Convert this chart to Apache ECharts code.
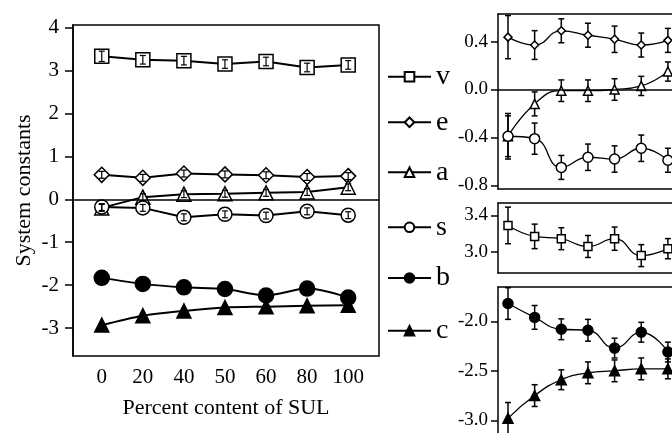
<!DOCTYPE html>
<html>
<head>
<meta charset="utf-8">
<script src="https://cdn.jsdelivr.net/npm/echarts@6/dist/echarts.min.js"></script>
<style>html,body{margin:0;padding:0;background:#fff}#c{width:672px;height:433px}</style>
</head>
<body>
<div id="c"></div>
<script>
// ---- data ----
var categories = ['0', '20', '40', '50', '60', '80', '100'];
var seriesNames = ['v', 'e', 'a', 's', 'b', 'c'];

// main panel (left)
var vMain = [3.33, 3.25, 3.23, 3.15, 3.21, 3.07, 3.13];
var eMain = [0.57, 0.50, 0.60, 0.58, 0.56, 0.52, 0.54];
var aMain = [-0.20, 0.05, 0.12, 0.13, 0.15, 0.17, 0.28];
var sMain = [-0.18, -0.20, -0.42, -0.35, -0.38, -0.28, -0.37];
var bMain = [-1.83, -1.97, -2.05, -2.09, -2.24, -2.08, -2.29];
var cMain = [-2.93, -2.71, -2.60, -2.52, -2.50, -2.48, -2.47];
var vMainErr = [0.12, 0.10, 0.10, 0.10, 0.10, 0.10, 0.10];
var eMainErr = [0.08, 0.08, 0.08, 0.08, 0.08, 0.08, 0.08];
var aMainErr = [0.08, 0.08, 0.08, 0.08, 0.08, 0.08, 0.08];
var sMainErr = [0.08, 0.08, 0.08, 0.08, 0.08, 0.08, 0.08];

// right panels (detail)
var eRight = [0.437, 0.371, 0.49, 0.453, 0.419, 0.371, 0.41];
var aRight = [-0.39, -0.12, -0.01, -0.01, 0.0, 0.03, 0.15];
var sRight = [-0.39, -0.41, -0.65, -0.565, -0.58, -0.49, -0.59];
var vRight = [3.29, 3.17, 3.145, 3.06, 3.145, 2.96, 3.036];
var bRight = [-1.82, -1.96, -2.08, -2.09, -2.27, -2.11, -2.31];
var cRight = [-2.98, -2.75, -2.59, -2.52, -2.50, -2.48, -2.48];
var eRightErr = [0.18, 0.12, 0.10, 0.10, 0.11, 0.10, 0.10];
var aRightErr = [0.19, 0.10, 0.09, 0.09, 0.09, 0.08, 0.08];
var sRightErr = [0.17, 0.13, 0.10, 0.11, 0.11, 0.11, 0.10];
var vRightErr = [0.20, 0.134, 0.12, 0.12, 0.127, 0.12, 0.11];
var bRightErr = [0.16, 0.12, 0.105, 0.11, 0.10, 0.10, 0.10];
var cRightErr = [0.16, 0.11, 0.10, 0.11, 0.11, 0.11, 0.10];

// tick labels
var mainYTicks = [4, 3, 2, 1, 0, -1, -2, -3];
var topYTicks = [0.4, 0.0, -0.4, -0.8];
var midYTicks = [3.4, 3.0];
var botYTicks = [-2.0, -2.5, -3.0];

// ---- helpers ----
var SERIF = '"Liberation Serif", "DejaVu Serif", serif';
var idx = categories.map(function (_, i) { return i; });
function pts(arr) { return arr.map(function (v, i) { return [i, v]; }); }
function errPts(arr, err) { return arr.map(function (v, i) { return [i, v - err[i], v + err[i]]; }); }

var symbols = {
  v: {symbol: 'rect', fill: '#fff'},
  e: {symbol: 'diamond', fill: '#fff'},
  a: {symbol: 'triangle', fill: '#fff'},
  s: {symbol: 'circle', fill: '#fff'},
  b: {symbol: 'circle', fill: '#000'},
  c: {symbol: 'triangle', fill: '#000'}
};

function lineSeries(name, data, grid, size, lw, smooth, extra) {
  var s = {
    name: name,
    type: 'line',
    xAxisIndex: grid, yAxisIndex: grid,
    data: pts(data),
    symbol: symbols[name.charAt(0)].symbol,
    symbolSize: size,
    smooth: smooth,
    clip: false,
    lineStyle: {color: '#000', width: lw},
    itemStyle: {color: symbols[name.charAt(0)].fill, borderColor: '#000', borderWidth: 1.5},
    z: 3,
    animation: false
  };
  if (extra) { for (var k in extra) s[k] = extra[k]; }
  return s;
}

function errSeries(data, err, grid, cap, lw, z) {
  return {
    type: 'custom',
    xAxisIndex: grid, yAxisIndex: grid,
    data: errPts(data, err),
    encode: {x: 0, y: [1, 2]},
    z: z,
    clip: false,
    silent: true,
    animation: false,
    renderItem: function (params, api) {
      var x = api.value(0);
      var p1 = api.coord([x, api.value(1)]);
      var p2 = api.coord([x, api.value(2)]);
      var st = {stroke: '#000', lineWidth: lw};
      return {
        type: 'group',
        children: [
          {type: 'line', shape: {x1: p1[0], y1: p1[1], x2: p2[0], y2: p2[1]}, style: st},
          {type: 'line', shape: {x1: p1[0] - cap, y1: p1[1], x2: p1[0] + cap, y2: p1[1]}, style: st},
          {type: 'line', shape: {x1: p2[0] - cap, y1: p2[1], x2: p2[0] + cap, y2: p2[1]}, style: st}
        ]
      };
    }
  };
}

var zeroLine = {
  silent: true, symbol: 'none',
  label: {show: false},
  lineStyle: {color: '#000', width: 1.5, type: 'solid'},
  data: [{yAxis: 0}],
  animation: false
};

// ---- layout ----
var grids = [
  {left: 73, top: 25, width: 306, height: 331, show: true, borderColor: '#000', borderWidth: 1.5},
  {left: 498, top: 14, right: 0, height: 175},
  {left: 498, top: 203, right: 0, height: 70},
  {left: 498, top: 287, right: 0, bottom: 0}
];

var BLACK_LINE = {color: '#000', width: 1.5};
var xAxes = [
  {
    gridIndex: 0, type: 'value', min: -0.7, max: 6.75,
    axisLine: {show: false}, axisTick: {show: false}, splitLine: {show: false},
    axisLabel: {
      customValues: idx, margin: 11,
      formatter: function (v) { return categories[Math.round(v)]; },
      color: '#000', fontFamily: SERIF, fontSize: 21
    },
    name: 'Percent content of SUL', nameLocation: 'middle', nameGap: 41,
    nameTextStyle: {color: '#000', fontFamily: SERIF, fontSize: 22}
  }
];
// bottom x axes of right panels (indices 1..3)
for (var g = 1; g <= 3; g++) {
  xAxes.push({
    gridIndex: g, type: 'value', min: -0.375, max: 6.154, position: 'bottom',
    axisLine: {show: g < 3, onZero: false, lineStyle: BLACK_LINE},
    axisTick: {show: false}, splitLine: {show: false},
    axisLabel: {show: false}
  });
}
// top x axes of right panels (frame top edge)
for (var g2 = 1; g2 <= 3; g2++) {
  xAxes.push({
    gridIndex: g2, type: 'value', min: -0.375, max: 6.154, position: 'top',
    axisLine: {show: true, onZero: false, lineStyle: BLACK_LINE},
    axisTick: {show: false}, splitLine: {show: false},
    axisLabel: {show: false}
  });
}

function rightY(g, min, max, ticks, dec) {
  return {
    gridIndex: g, type: 'value', min: min, max: max,
    axisLine: {show: true, onZero: false, lineStyle: BLACK_LINE},
    axisTick: {show: true, customValues: ticks, length: 7, lineStyle: BLACK_LINE},
    splitLine: {show: false},
    axisLabel: {
      customValues: ticks, margin: 10,
      formatter: function (v) { return v.toFixed(dec); },
      color: '#000', fontFamily: SERIF, fontSize: 19
    }
  };
}

var yAxes = [
  {
    gridIndex: 0, type: 'value', min: -3.65, max: 4.06,
    axisLine: {show: true, onZero: false, lineStyle: BLACK_LINE},
    axisTick: {show: true, customValues: mainYTicks, length: 8, lineStyle: BLACK_LINE},
    splitLine: {show: false},
    axisLabel: {
      customValues: mainYTicks, margin: 14,
      color: '#000', fontFamily: SERIF, fontSize: 21
    },
    name: 'System constants', nameLocation: 'middle', nameGap: 38,
    nameTextStyle: {color: '#000', fontFamily: SERIF, fontSize: 22}
  },
  rightY(1, -0.83, 0.63, topYTicks, 1),
  rightY(2, 2.77, 3.535, midYTicks, 1),
  rightY(3, -3.128, -1.653, botYTicks, 1)
];

var legendCenters = [77.7, 123.3, 173.3, 228.3, 279, 331.7];
var legends = seriesNames.map(function (n, i) {
  return {
    data: [n], orient: 'vertical', left: 387, top: legendCenters[i] - 15,
    padding: 0, itemWidth: 43, itemHeight: 12,
    selectedMode: false,
    textStyle: {color: '#000', fontFamily: SERIF, fontSize: 28}
  };
});

var series = [
  lineSeries('v', vMain, 0, 14, 2, false, {markLine: zeroLine}),
  lineSeries('e', eMain, 0, 15, 2, false),
  lineSeries('a', aMain, 0, 14, 2, false),
  lineSeries('s', sMain, 0, 14, 2, false),
  lineSeries('b', bMain, 0, 15, 2, 0.3),
  lineSeries('c', cMain, 0, 14, 2, 0.3),
  errSeries(vMain, vMainErr, 0, 3, 1.2, 5),
  errSeries(eMain, eMainErr, 0, 3, 1.2, 5),
  errSeries(aMain, aMainErr, 0, 3, 1.2, 5),
  errSeries(sMain, sMainErr, 0, 3, 1.2, 5),

  lineSeries('e2', eRight, 1, 8, 1.3, 0.5, {markLine: zeroLine}),
  lineSeries('a2', aRight, 1, 9, 1.3, 0.5),
  lineSeries('s2', sRight, 1, 10, 1.3, 0.5),
  errSeries(eRight, eRightErr, 1, 3, 1.5, 2),
  errSeries(aRight, aRightErr, 1, 3, 1.5, 2),
  errSeries(sRight, sRightErr, 1, 3, 1.5, 2),

  lineSeries('v2', vRight, 2, 8, 1.3, 0.5),
  errSeries(vRight, vRightErr, 2, 3, 1.5, 2),

  lineSeries('b2', bRight, 3, 10, 1.3, 0.5),
  lineSeries('c2', cRight, 3, 10, 1.3, 0.5),
  errSeries(bRight, bRightErr, 3, 3, 1.5, 2),
  errSeries(cRight, cRightErr, 3, 3, 1.5, 2)
];

var chart = echarts.init(document.getElementById('c'), null, {renderer: 'canvas'});
chart.setOption({
  backgroundColor: '#fff',
  animation: false,
  grid: grids,
  xAxis: xAxes,
  yAxis: yAxes,
  legend: legends,
  series: series
});
</script>
</body>
</html>
